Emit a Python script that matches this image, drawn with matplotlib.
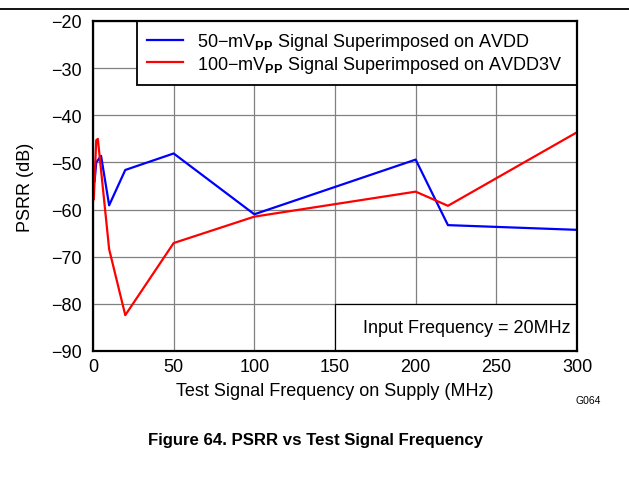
import matplotlib
matplotlib.use("Agg")
import matplotlib.pyplot as plt
from matplotlib.patches import Rectangle
from matplotlib.lines import Line2D

plt.rcParams["font.family"] = ["Liberation Sans", "DejaVu Sans"]
plt.rcParams["mathtext.fontset"] = "custom"
plt.rcParams["mathtext.rm"] = "Liberation Sans"
plt.rcParams["mathtext.bf"] = "Liberation Sans:bold"

# PSRR measured with the supply test signal swept, input at 20 MHz
freq_avdd = [1, 2, 5, 10, 20, 50, 100, 200, 220, 300]
psrr_avdd = [-54, -50, -48.6, -59.1, -51.6, -48.1, -61, -49.4, -63.3, -64.3]

freq_avdd3v = [0.5, 2, 3, 10, 20, 50, 100, 200, 220, 300]
psrr_avdd3v = [-57.8, -45.3, -45, -68.4, -82.4, -67.1, -61.5, -56.2, -59.2, -43.6]

label_avdd = r"50$-$mV$_{\mathbf{PP}}$ Signal Superimposed on AVDD"
label_avdd3v = r"100$-$mV$_{\mathbf{PP}}$ Signal Superimposed on AVDD3V"

xticks = [0, 50, 100, 150, 200, 250, 300]
yticks = [-90, -80, -70, -60, -50, -40, -30, -20]

fs = 13

fig = plt.figure(figsize=(6.29, 4.85), dpi=100)
ax = fig.add_axes([93 / 629, 1 - 352 / 485, 484 / 629, 330 / 485])

ax.plot(freq_avdd, psrr_avdd, color="#0000ff", lw=1.6, zorder=3)
ax.plot(freq_avdd3v, psrr_avdd3v, color="#ff0000", lw=1.6, zorder=3)

ax.set_xlim(0, 300)
ax.set_ylim(-90, -20)
ax.set_xticks(xticks)
ax.set_yticks(yticks)
ax.set_yticklabels([f"\u2212{abs(v)}" for v in yticks])
ax.tick_params(length=0, labelsize=fs, pad=8)
ax.tick_params(axis="x", pad=5)
ax.grid(True, color="#808080", lw=0.9)
ax.set_axisbelow(True)
for s in ax.spines.values():
    s.set_linewidth(1.6)
    s.set_zorder(6)

ax.set_xlabel("Test Signal Frequency on Supply (MHz)", fontsize=fs, labelpad=5)
ax.set_ylabel("PSRR (dB)", fontsize=fs, labelpad=12)

# condition box in the lower right corner
ax.add_patch(Rectangle((150, -90), 150, 10, facecolor="white",
                       edgecolor="black", lw=0.9, zorder=4))
ax.text(296, -85, "Input Frequency = 20MHz", ha="right", va="center",
        fontsize=fs, zorder=5)

handles = [Line2D([], [], color="#0000ff", lw=1.6),
           Line2D([], [], color="#ff0000", lw=1.6)]
leg = ax.legend(handles, [label_avdd, label_avdd3v], loc="upper left",
                bbox_to_anchor=(44 / 484, 0, 440 / 484, 1), mode="expand",
                borderaxespad=0, fancybox=False, framealpha=1, fontsize=fs,
                handlelength=2.0, handletextpad=0.8, labelspacing=0.1,
                borderpad=0.55)
leg.get_frame().set_edgecolor("black")
leg.get_frame().set_linewidth(1.3)
leg.set_zorder(5)

fig.add_artist(Line2D([0, 1], [1 - 10 / 485, 1 - 10 / 485], color="black", lw=1.3))
fig.text(588 / 629, 1 - 401 / 485, "G064", fontsize=7.5, ha="center", va="center")
fig.text(316 / 629, 1 - 441 / 485, "Figure 64. PSRR vs Test Signal Frequency",
         fontsize=12.1, fontweight="bold", ha="center", va="center")

fig.savefig("out.png", dpi=100)
